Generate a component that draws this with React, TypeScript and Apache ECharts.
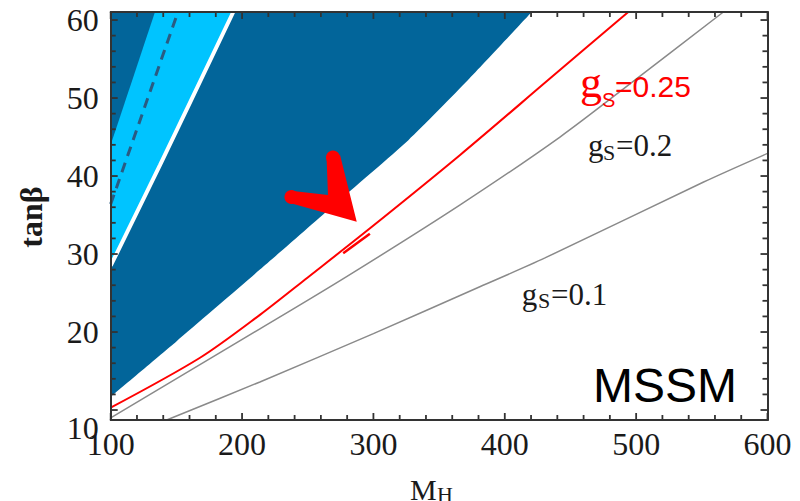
import React, { useEffect, useRef } from 'react';
import * as echarts from 'echarts';

// Axis ranges and ticks
const xRange = [100, 600];
const yRange = [8.72, 61.03];
const xMajorTicks = [100, 200, 300, 400, 500, 600];
const xMinorTicks = [120, 140, 160, 180, 220, 240, 260, 280, 320, 340, 360, 380, 420, 440, 460, 480, 520, 540, 560, 580];
const yMajorTicks = [10, 20, 30, 40, 50, 60];
const yMinorTicks = [12, 14, 16, 18, 22, 24, 26, 28, 32, 34, 36, 38, 42, 44, 46, 48, 52, 54, 56, 58];

// Excluded region boundaries (M_H, tanβ)
const darkM = [100, 150, 213.6, 270, 326.6, 372, 420.5];
const darkV = [11.7, 18.8, 28, 36.3, 44.6, 52.3, 61.03];
const whiteM = [100, 137.5, 193.3];
const whiteV = [28.5, 41.4, 61.03];
const leftEdgeM = [100, 133.7];
const leftEdgeV = [44, 61.03];
const dashM = [100, 151.2];
const dashV = [36.4, 61.03];

// Coupling contours
const redM = [100, 168, 213.6, 250, 297.4, 366, 433, 494];
const redV = [10.3, 16.7, 22.2, 27.0, 33.3, 42.7, 52.3, 61.03];
const g02M = [100, 213.6, 279.6, 366, 442, 499, 566.4];
const g02V = [9.0, 20.4, 27.1, 36.3, 45.0, 52.3, 61.03];
const g01M = [142.6, 213.6, 300, 381, 430.6, 551, 600];
const g01V = [8.72, 13.6, 19.8, 25.8, 29.5, 39.2, 42.9];

// Red annotation: short stroke and arrow
const markM = [277, 297.3];
const markV = [30.1, 32.6];
const arrowM = [274.6, 287.3, 236.5, 238.8, 265.4, 264.4];
const arrowV = [42.69, 34.14, 36.54, 38.08, 37.56, 42.05];
const arrowCapM = [269.2, 237.6];
const arrowCapV = [42.37, 37.31];

const pts = (m: number[], v: number[]) => m.map((x, i) => [x, v[i]]);

const DARK = '#02659a';
const LIGHT = '#00c4ff';
const RED = '#ff0000';
const GRAY = '#8a8a8a';
const AXIS = '#333333';
const TXT = '#1a1a1a';
const SERIF = '"Liberation Serif", "Times New Roman", serif';
const SANS = '"Liberation Sans", Arial, sans-serif';

export default function App() {
  const ref = useRef<HTMLDivElement>(null);
  useEffect(() => {
    if (!ref.current) return;
    const chart = echarts.init(ref.current, null, { renderer: 'svg' });
    const grid = { left: 110.7, right: 32.5, top: 12, bottom: 81 };
    const xBase = (position: string, labels: boolean) => ({
      type: 'value',
      min: xRange[0],
      max: xRange[1],
      interval: 100,
      position,
      z: 20,
      axisLine: { show: true, onZero: false, lineStyle: { color: AXIS, width: 2 } },
      axisTick: { show: false },
      splitLine: { show: false },
      axisLabel: {
        show: labels,
        fontFamily: SERIF,
        fontSize: 32,
        color: TXT,
        margin: 8,
        showMinLabel: true,
        showMaxLabel: true,
      },
    });
    const yBase = (position: string, labels: boolean) => ({
      type: 'value',
      min: yRange[0],
      max: yRange[1],
      position,
      z: 20,
      axisLine: { show: true, onZero: false, lineStyle: { color: AXIS, width: 2 } },
      axisTick: { show: false },
      splitLine: { show: false },
      axisLabel: labels
        ? {
            show: true,
            customValues: yMajorTicks,
            fontFamily: SERIF,
            fontSize: 32,
            color: TXT,
            margin: 12,
            formatter: (v: number) => (v === 10 ? '{lo|10}' : String(v)),
            rich: {
              lo: { padding: [36, 0, 0, 0], fontFamily: SERIF, fontSize: 32, color: TXT },
            },
          }
        : { show: false },
    });

    const areaSeries = (data: number[][], color: string) => ({
      type: 'line',
      data,
      showSymbol: false,
      smooth: 0.2,
      silent: true,
      z: 1,
      lineStyle: { width: 0 },
      areaStyle: { color, opacity: 1, origin: 'end' },
    });
    const lineSeries = (data: number[][], color: string, width: number, extra: any = {}) => ({
      type: 'line',
      data,
      showSymbol: false,
      smooth: 0.3,
      silent: true,
      z: 3,
      lineStyle: { color, width, ...extra },
    });

    const txt = (text: string, x: number, y: number, font: string, fill: string) => ({
      type: 'text',
      x,
      y,
      silent: true,
      z: 100,
      style: { text, font, fill, align: 'left', verticalAlign: 'middle' },
    });

    // Inward ticks on all four sides, placed through the axes' scales
    const tickSeries = {
      type: 'custom',
      silent: true,
      z: 15,
      clip: false,
      data: [[xRange[0], yRange[0]]],
      renderItem: (params: any, api: any) => {
        const cs = params.coordSys;
        const top = cs.y;
        const bottom = cs.y + cs.height;
        const left = cs.x;
        const right = cs.x + cs.width;
        const style = { stroke: AXIS, lineWidth: 1.8 };
        const kids: any[] = [];
        const addX = (vals: number[], len: number) =>
          vals.forEach((v) => {
            const px = api.coord([v, yRange[0]])[0];
            kids.push({ type: 'line', shape: { x1: px, y1: bottom, x2: px, y2: bottom - len }, style });
            kids.push({ type: 'line', shape: { x1: px, y1: top, x2: px, y2: top + len }, style });
          });
        const addY = (vals: number[], len: number) =>
          vals.forEach((v) => {
            const py = api.coord([xRange[0], v])[1];
            kids.push({ type: 'line', shape: { x1: left, y1: py, x2: left + len, y2: py }, style });
            kids.push({ type: 'line', shape: { x1: right, y1: py, x2: right - len, y2: py }, style });
          });
        addX(xMajorTicks, 7);
        addX(xMinorTicks, 5);
        addY(yMajorTicks, 7);
        addY(yMinorTicks, 5);
        return { type: 'group', children: kids };
      },
    };

    chart.setOption({
      animation: false,
      backgroundColor: '#ffffff',
      grid,
      xAxis: [xBase('bottom', true), xBase('top', false)],
      yAxis: [yBase('left', true), yBase('right', false)],
      series: [
        areaSeries(pts(darkM, darkV), DARK),
        areaSeries(pts(whiteM, whiteV), LIGHT),
        areaSeries(pts(leftEdgeM, leftEdgeV), DARK),
        lineSeries(pts(whiteM, whiteV), '#ffffff', 4),
        lineSeries(pts(dashM, dashV), '#2a5b82', 3, { type: [10, 7] }),
        lineSeries(pts(g01M, g01V), GRAY, 1.5),
        lineSeries(pts(g02M, g02V), GRAY, 1.5),
        lineSeries(pts(redM, redV), RED, 2),
        lineSeries(pts(markM, markV), RED, 2.5),
        {
          type: 'custom',
          silent: true,
          z: 10,
          data: [[arrowM[1], arrowV[1]]],
          renderItem: (params: any, api: any) => {
            const poly = pts(arrowM, arrowV).map((p) => api.coord(p));
            const caps = pts(arrowCapM, arrowCapV).map((p) => api.coord(p));
            return {
              type: 'group',
              children: [
                { type: 'polygon', z2: 10, shape: { points: poly }, style: { fill: RED } },
                ...caps.map((c: number[]) => ({
                  type: 'circle',
                  z2: 10,
                  shape: { cx: c[0], cy: c[1], r: 7 },
                  style: { fill: RED },
                })),
              ],
            };
          },
        },
        tickSeries,
      ],
      graphic: [
        txt('g', 580, 82.1, `44px ${SERIF}`, RED),
        txt('S', 602, 100.1, `20px ${SANS}`, RED),
        txt('=0.25', 615, 86.3, `30px ${SANS}`, RED),
        txt('g', 588, 145.2, `31px ${SERIF}`, TXT),
        txt('S', 603, 152.6, `22px ${SERIF}`, TXT),
        txt('=0.2', 616, 145.2, `31px ${SERIF}`, TXT),
        txt('g', 521.7, 294.5, `31px ${SERIF}`, TXT),
        txt('S', 538, 300.6, `22px ${SERIF}`, TXT),
        txt('=0.1', 551, 294.5, `31px ${SERIF}`, TXT),
        txt('MSSM', 593, 385.5, `48px ${SANS}`, '#000000'),
        txt('M', 410, 489, `30px ${SERIF}`, TXT),
        txt('H', 437, 494, `22px ${SERIF}`, TXT),
        {
          type: 'text',
          x: 31,
          y: 217,
          rotation: Math.PI / 2,
          silent: true,
          style: {
            text: 'tanβ',
            font: `bold 32px ${SERIF}`,
            fill: TXT,
            align: 'center',
            verticalAlign: 'middle',
          },
        },
      ],
    });
    return () => chart.dispose();
  }, []);
  return <div ref={ref} style={{ position: 'absolute', left: 0, top: 0, width: 800, height: 501 }} />;
}
